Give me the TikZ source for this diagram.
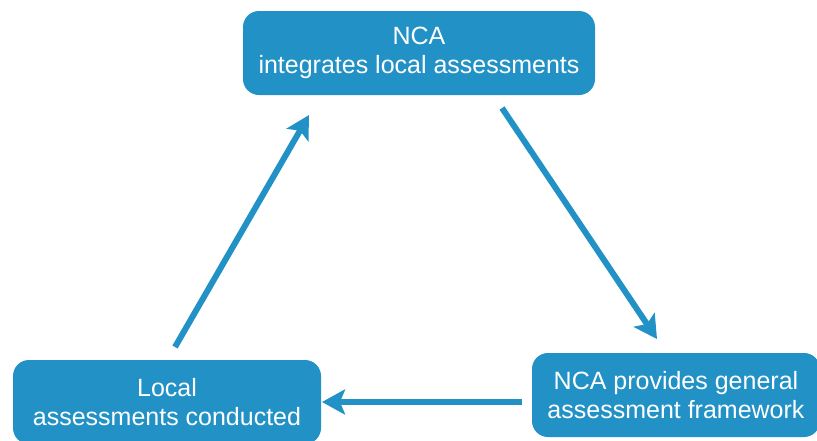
\documentclass[tikz,border=0pt]{standalone}
\usepackage{fontspec}
\setmainfont{Liberation Sans}
\usetikzlibrary{arrows.meta}
\definecolor{boxblue}{RGB}{34,146,198}
\tikzset{
  x=1pt,y=1pt,
  blk/.style={fill=boxblue, draw=none, rounded corners=16pt, text=white, align=center,
    font=\fontsize{25}{29}\selectfont, inner sep=0pt},
  flow/.style={draw=boxblue, line width=6pt, -{Stealth[length=23pt,width=25pt,inset=5pt]}}
}
\begin{document}
\begin{tikzpicture}
\useasboundingbox (0,0) rectangle (817,-440);
\node[blk, minimum width=352pt, minimum height=84pt] (top) at (419,-53) {NCA\\integrates local assessments};
\node[blk, minimum width=308pt, minimum height=84pt] (left) at (167,-402) {Local\\assessments conducted};
\node[blk, minimum width=288pt, minimum height=84pt] (right) at (676,-395) {NCA provides general\\assessment framework};
\coordinate (a1s) at (502,-108);
\coordinate (a1e) at (657,-339);
\coordinate (a2s) at (522,-402);
\coordinate (a2e) at (322,-402);
\coordinate (a3s) at (175,-347);
\coordinate (a3e) at (309,-115);
\draw[flow] (a1s) -- (a1e);
\draw[flow] (a2s) -- (a2e);
\draw[flow] (a3s) -- (a3e);
\end{tikzpicture}
\end{document}
